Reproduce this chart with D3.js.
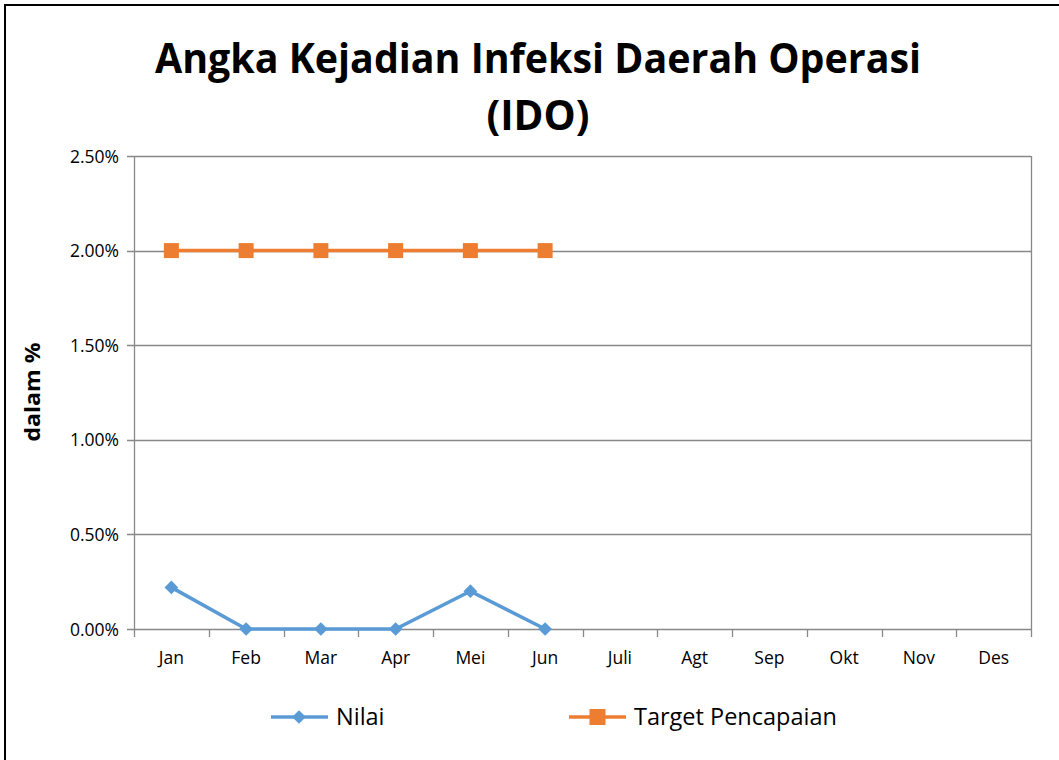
<!DOCTYPE html>
<html>
<head>
<meta charset="utf-8">
<script src="https://cdn.jsdelivr.net/npm/d3@7"></script>
<style>
  body { margin: 0; background: #fff; }
  svg { display: block; font-family: "Open Sans", "Noto Sans", sans-serif; }
</style>
</head>
<body>
<svg id="chart" width="1059" height="760"></svg>
<script>
// Monthly IDO rate vs target
const months = ['Jan', 'Feb', 'Mar', 'Apr', 'Mei', 'Jun', 'Juli', 'Agt', 'Sep', 'Okt', 'Nov', 'Des'];
const nilai = [0.0022, 0, 0, 0, 0.0020, 0];
const target = [0.02, 0.02, 0.02, 0.02, 0.02, 0.02];
const yTicks = [0, 0.005, 0.01, 0.015, 0.02, 0.025];
const seriesNames = ['Nilai', 'Target Pencapaian'];

const blue = '#5B9BD5';
const orange = '#ED7D31';
const grid = '#888888';

const svg = d3.select('#chart');
const margin = { left: 134, right: 1031, top: 156, bottom: 629 };

// outer frame (runs off the image on the right/bottom)
svg.append('rect')
    .attr('x', 5).attr('y', 5)
    .attr('width', 1200).attr('height', 900)
    .attr('fill', 'none')
    .attr('stroke', '#000')
    .attr('stroke-width', 2);

const x = d3.scaleBand()
    .domain(months)
    .range([margin.left, margin.right]);

const y = d3.scaleLinear()
    .domain([0, 0.025])
    .range([margin.bottom, margin.top]);

// gridlines
svg.append('g')
    .selectAll('line')
    .data(yTicks)
    .enter()
    .append('line')
    .attr('x1', margin.left - 7)
    .attr('x2', margin.right)
    .attr('y1', d => Math.round(y(d)) + 0.5)
    .attr('y2', d => Math.round(y(d)) + 0.5)
    .attr('stroke', grid)
    .attr('stroke-width', 1.3);

// y tick labels
svg.append('g')
    .selectAll('text')
    .data(yTicks)
    .enter()
    .append('text')
    .attr('x', 119)
    .attr('y', d => y(d) + 6.5)
    .attr('text-anchor', 'end')
    .attr('font-size', '17.5px')
    .attr('fill', '#000')
    .text(d => d3.format('.2%')(d));

// axes lines
svg.append('line')
    .attr('x1', margin.left + 0.5).attr('x2', margin.left + 0.5)
    .attr('y1', margin.top).attr('y2', margin.bottom + 8)
    .attr('stroke', grid).attr('stroke-width', 1.3);
svg.append('line')
    .attr('x1', margin.right + 0.5).attr('x2', margin.right + 0.5)
    .attr('y1', margin.top).attr('y2', margin.bottom + 8)
    .attr('stroke', grid).attr('stroke-width', 1.3);

// x category tick marks
svg.append('g')
    .selectAll('line')
    .data(months.slice(1))
    .enter()
    .append('line')
    .attr('x1', d => Math.round(x(d)) + 0.5)
    .attr('x2', d => Math.round(x(d)) + 0.5)
    .attr('y1', margin.bottom)
    .attr('y2', margin.bottom + 8)
    .attr('stroke', grid)
    .attr('stroke-width', 1.3);

// x labels
svg.append('g')
    .selectAll('text')
    .data(months)
    .enter()
    .append('text')
    .attr('x', d => x(d) + x.bandwidth() / 2)
    .attr('y', 664)
    .attr('text-anchor', 'middle')
    .attr('font-size', '17.5px')
    .attr('fill', '#000')
    .text(d => d);

const cx = (d, i) => x(months[i]) + x.bandwidth() / 2;
const line = d3.line().x(cx).y(d => y(d));

// Target series
svg.append('path')
    .datum(target)
    .attr('d', line)
    .attr('fill', 'none')
    .attr('stroke', orange)
    .attr('stroke-width', 3.5);
svg.append('g')
    .selectAll('rect')
    .data(target)
    .enter()
    .append('rect')
    .attr('x', (d, i) => cx(d, i) - 7.5)
    .attr('y', d => y(d) - 7.5)
    .attr('width', 15)
    .attr('height', 15)
    .attr('fill', orange);

// Nilai series
svg.append('path')
    .datum(nilai)
    .attr('d', line)
    .attr('fill', 'none')
    .attr('stroke', blue)
    .attr('stroke-width', 3.5);
svg.append('g')
    .selectAll('path')
    .data(nilai)
    .enter()
    .append('path')
    .attr('d', d3.symbol().type(d3.symbolDiamond2).size(120))
    .attr('transform', (d, i) => `translate(${cx(d, i)},${y(d)})`)
    .attr('fill', blue);

// Title
const title = svg.append('text')
    .attr('text-anchor', 'middle')
    .attr('font-weight', 'bold')
    .attr('font-size', '42px')
    .attr('fill', '#000');
title.append('tspan').attr('x', 538).attr('y', 73)
    .attr('textLength', 766).attr('lengthAdjust', 'spacingAndGlyphs')
    .text('Angka Kejadian Infeksi Daerah Operasi');
title.append('tspan').attr('x', 538).attr('y', 130)
    .attr('textLength', 103).attr('lengthAdjust', 'spacingAndGlyphs')
    .text('(IDO)');

// Y axis title
svg.append('text')
    .attr('transform', 'translate(40,392) rotate(-90)')
    .attr('text-anchor', 'middle')
    .attr('font-weight', 'bold')
    .attr('font-size', '21px')
    .attr('fill', '#000')
    .attr('textLength', 99)
    .attr('lengthAdjust', 'spacingAndGlyphs')
    .text('dalam %');

// Legend
const legendItems = [
    { name: seriesNames[0], color: blue, shape: 'diamond', x: 271 },
    { name: seriesNames[1], color: orange, shape: 'square', x: 569 }
];
const legend = svg.append('g');
legendItems.forEach(item => {
    const g = legend.append('g');
    g.append('line')
        .attr('x1', item.x).attr('x2', item.x + 57)
        .attr('y1', 717).attr('y2', 717)
        .attr('stroke', item.color).attr('stroke-width', 3.5);
    if (item.shape === 'diamond') {
        g.append('path')
            .attr('d', d3.symbol().type(d3.symbolDiamond2).size(120))
            .attr('transform', `translate(${item.x + 28},717)`)
            .attr('fill', item.color);
    } else {
        g.append('rect')
            .attr('x', item.x + 20.5).attr('y', 709)
            .attr('width', 16).attr('height', 16)
            .attr('fill', item.color);
    }
    g.append('text')
        .attr('x', item.x + 65)
        .attr('y', 725)
        .attr('font-size', '23.5px')
        .attr('fill', '#000')
        .text(item.name);
});
</script>
</body>
</html>
